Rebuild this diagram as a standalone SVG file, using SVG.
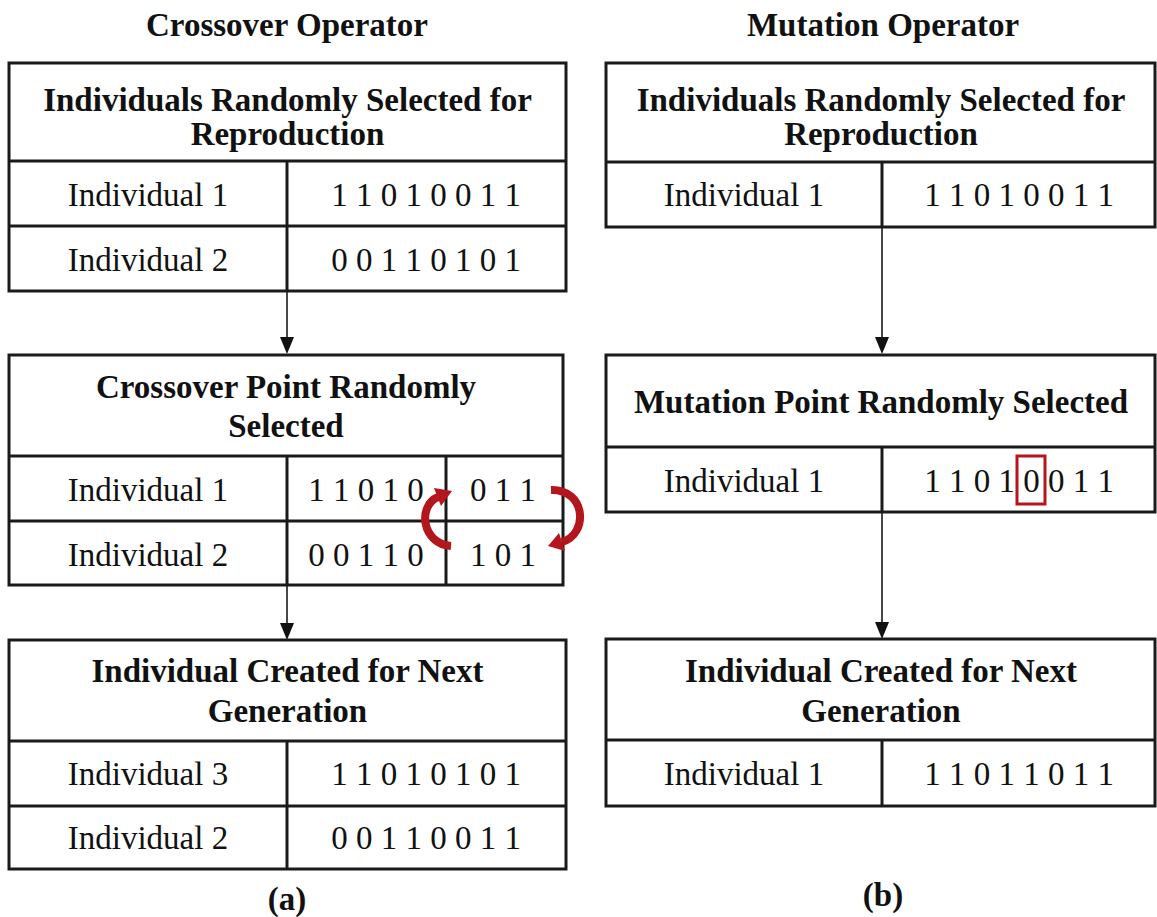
<svg xmlns="http://www.w3.org/2000/svg" width="1157" height="917" viewBox="0 0 1157 917">
<style>
.t{font-family:"Liberation Serif","Times New Roman",serif;font-size:33px;fill:#111;text-anchor:middle}
.b{font-weight:bold}
.box{fill:#fff;stroke:#1a1a1a;stroke-width:3}
.ln{stroke:#1a1a1a;stroke-width:3;fill:none}
.con{stroke:#1a1a1a;stroke-width:1.6;fill:none}
.head{fill:#111}
.red{stroke:#b3161c;stroke-width:8;fill:none}
.redf{fill:#b3161c}
</style>
<rect width="1157" height="917" fill="#fff"/>
<text class="t b" x="287" y="36">Crossover Operator</text>
<text class="t b" x="883" y="36">Mutation Operator</text>

<g id="connectors">
<line class="con" x1="287" y1="292" x2="287" y2="338"/>
<polygon class="head" points="280,337 294,337 287,354"/>
<line class="con" x1="287" y1="586" x2="287" y2="624"/>
<polygon class="head" points="280,623 294,623 287,640"/>
<line class="con" x1="882" y1="228" x2="882" y2="338"/>
<polygon class="head" points="875,337 889,337 882,354"/>
<line class="con" x1="882" y1="513" x2="882" y2="623"/>
<polygon class="head" points="875,622 889,622 882,639"/>
</g>

<g id="crossover-selected">
<rect class="box" x="9" y="63" width="557" height="228"/>
<line class="ln" x1="9" y1="161" x2="566" y2="161"/>
<line class="ln" x1="9" y1="226" x2="566" y2="226"/>
<line class="ln" x1="287" y1="161" x2="287" y2="291"/>
<text class="t b" x="287.5" y="111">Individuals Randomly Selected for</text>
<text class="t b" x="287.5" y="145">Reproduction</text>
<text class="t" x="148" y="206">Individual 1</text>
<text class="t" x="426" y="206">1 1 0 1 0 0 1 1</text>
<text class="t" x="148" y="271">Individual 2</text>
<text class="t" x="426" y="271">0 0 1 1 0 1 0 1</text>
</g>

<g id="crossover-point">
<rect class="box" x="9" y="355" width="554" height="230"/>
<line class="ln" x1="9" y1="456" x2="563" y2="456"/>
<line class="ln" x1="9" y1="521" x2="563" y2="521"/>
<line class="ln" x1="287" y1="456" x2="287" y2="585"/>
<line class="ln" x1="446" y1="456" x2="446" y2="585"/>
<text class="t b" x="286" y="398">Crossover Point Randomly</text>
<text class="t b" x="286" y="437">Selected</text>
<text class="t" x="148" y="501">Individual 1</text>
<text class="t" x="366" y="501">1 1 0 1 0</text>
<text class="t" x="503" y="501">0 1 1</text>
<text class="t" x="148" y="566">Individual 2</text>
<text class="t" x="366" y="566">0 0 1 1 0</text>
<text class="t" x="503" y="566">1 0 1</text>
</g>

<g id="swap-arrows">
<path class="red" d="M451,546 C422,544 417,506 438,497"/>
<polygon class="redf" points="452,491 441,506 434,488"/>
<path class="red" d="M551,490 C586,489 589,534 562,542"/>
<polygon class="redf" points="548,546 565,551 559,533"/>
</g>

<g id="crossover-next">
<rect class="box" x="9" y="640" width="557" height="229"/>
<line class="ln" x1="9" y1="741" x2="566" y2="741"/>
<line class="ln" x1="9" y1="806" x2="566" y2="806"/>
<line class="ln" x1="287" y1="741" x2="287" y2="869"/>
<text class="t b" x="287.5" y="682">Individual Created for Next</text>
<text class="t b" x="287.5" y="722">Generation</text>
<text class="t" x="148" y="785">Individual 3</text>
<text class="t" x="426" y="785">1 1 0 1 0 1 0 1</text>
<text class="t" x="148" y="849">Individual 2</text>
<text class="t" x="426" y="849">0 0 1 1 0 0 1 1</text>
</g>
<text class="t b" x="287" y="910">(a)</text>

<g id="mutation-selected">
<rect class="box" x="606" y="63" width="549" height="164"/>
<line class="ln" x1="606" y1="162" x2="1155" y2="162"/>
<line class="ln" x1="882" y1="162" x2="882" y2="227"/>
<text class="t b" x="881" y="111">Individuals Randomly Selected for</text>
<text class="t b" x="881" y="145">Reproduction</text>
<text class="t" x="744" y="206">Individual 1</text>
<text class="t" x="1019" y="206">1 1 0 1 0 0 1 1</text>
</g>

<g id="mutation-point">
<rect class="box" x="606" y="355" width="549" height="157"/>
<line class="ln" x1="606" y1="447" x2="1155" y2="447"/>
<line class="ln" x1="882" y1="447" x2="882" y2="512"/>
<text class="t b" x="881" y="413">Mutation Point Randomly Selected</text>
<text class="t" x="744" y="492">Individual 1</text>
<text class="t" x="1019" y="492">1 1 0 1 0 0 1 1</text>
<rect x="1017" y="456" width="28" height="48" fill="none" stroke="#b3161c" stroke-width="3"/>
</g>

<g id="mutation-next">
<rect class="box" x="606" y="639" width="549" height="167"/>
<line class="ln" x1="606" y1="740" x2="1155" y2="740"/>
<line class="ln" x1="882" y1="740" x2="882" y2="806"/>
<text class="t b" x="881" y="682">Individual Created for Next</text>
<text class="t b" x="881" y="722">Generation</text>
<text class="t" x="744" y="785">Individual 1</text>
<text class="t" x="1019" y="785">1 1 0 1 1 0 1 1</text>
</g>
<text class="t b" x="883" y="906">(b)</text>
</svg>
